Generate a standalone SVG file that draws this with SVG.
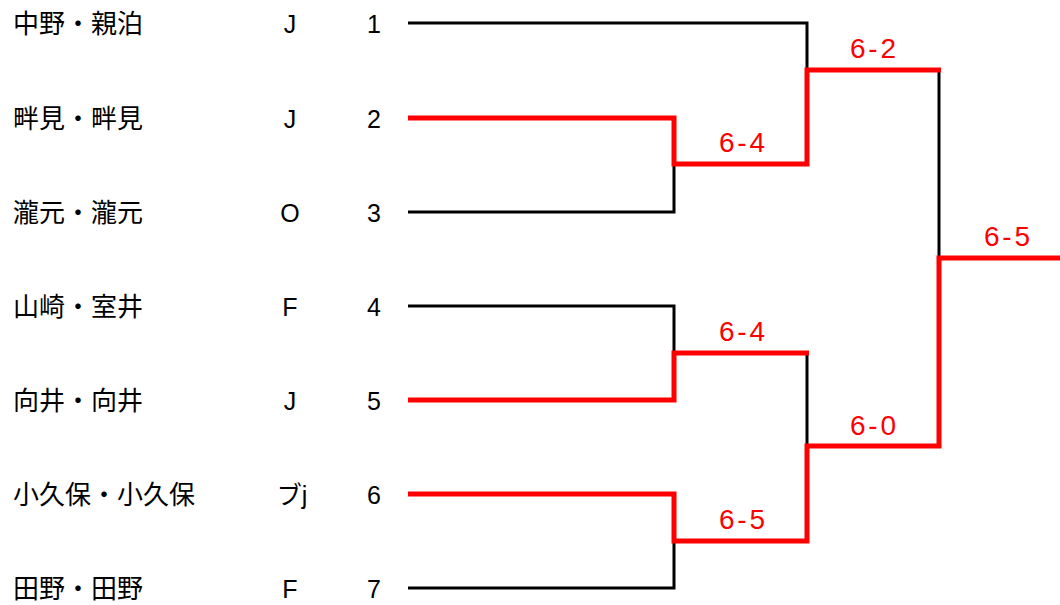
<svg xmlns="http://www.w3.org/2000/svg" width="1060" height="605" viewBox="0 0 1060 605">
<style>
.name{font-family:"Noto Sans CJK JP","Liberation Sans",sans-serif;font-size:26px;fill:#000}
.cls{font-family:"Liberation Sans","Noto Sans CJK JP",sans-serif;font-size:25px;fill:#000;text-anchor:middle}
.num{font-family:"Liberation Sans",sans-serif;font-size:25px;fill:#000;text-anchor:middle}
.score{font-family:"Liberation Sans",sans-serif;font-size:28px;fill:#ff0000;text-anchor:middle}
.lose{fill:none;stroke:#000;stroke-width:3}
.win{fill:none;stroke:#ff0000;stroke-width:5;stroke-linejoin:miter}
</style>
<rect width="1060" height="605" fill="#fff"/>
<g id="entry1"><text class="name" x="13" y="33">中野・親泊</text><text class="cls" x="290" y="33">J</text><text class="num" x="374" y="33">1</text></g>
<g id="entry2"><text class="name" x="13" y="128">畔見・畔見</text><text class="cls" x="290" y="128">J</text><text class="num" x="374" y="128">2</text></g>
<g id="entry3"><text class="name" x="13" y="222">瀧元・瀧元</text><text class="cls" x="290" y="222">O</text><text class="num" x="374" y="222">3</text></g>
<g id="entry4"><text class="name" x="13" y="316">山崎・室井</text><text class="cls" x="290" y="316">F</text><text class="num" x="374" y="316">4</text></g>
<g id="entry5"><text class="name" x="13" y="410">向井・向井</text><text class="cls" x="290" y="410">J</text><text class="num" x="374" y="410">5</text></g>
<g id="entry6"><text class="name" x="13" y="504">小久保・小久保</text><text class="cls" x="292" y="504">ブj</text><text class="num" x="374" y="504">6</text></g>
<g id="entry7"><text class="name" x="13" y="598">田野・田野</text><text class="cls" x="290" y="598">F</text><text class="num" x="374" y="598">7</text></g>
<g id="connectors">
<path class="lose" d="M408,23 H807 V70"/>
<path class="lose" d="M408,212 H674 V164"/>
<path class="lose" d="M939,70 V258"/>
<path class="lose" d="M408,306 H674 V353"/>
<path class="lose" d="M807,353 V446"/>
<path class="lose" d="M408,588 H674 V541"/>
<path class="win" d="M408,118 H674 V164 H807 V70 H941"/>
<path class="win" d="M408,400 H674 V353 H809"/>
<path class="win" d="M408,494 H674 V541 H807 V446 H939 V258 H1060"/>
<text class="score" x="873" y="58" textLength="46" lengthAdjust="spacing">6-2</text>
<text class="score" x="742" y="152" textLength="46" lengthAdjust="spacing">6-4</text>
<text class="score" x="1007" y="246" textLength="46" lengthAdjust="spacing">6-5</text>
<text class="score" x="742" y="341" textLength="46" lengthAdjust="spacing">6-4</text>
<text class="score" x="873" y="435" textLength="46" lengthAdjust="spacing">6-0</text>
<text class="score" x="742" y="529" textLength="46" lengthAdjust="spacing">6-5</text>
</g>
</svg>
